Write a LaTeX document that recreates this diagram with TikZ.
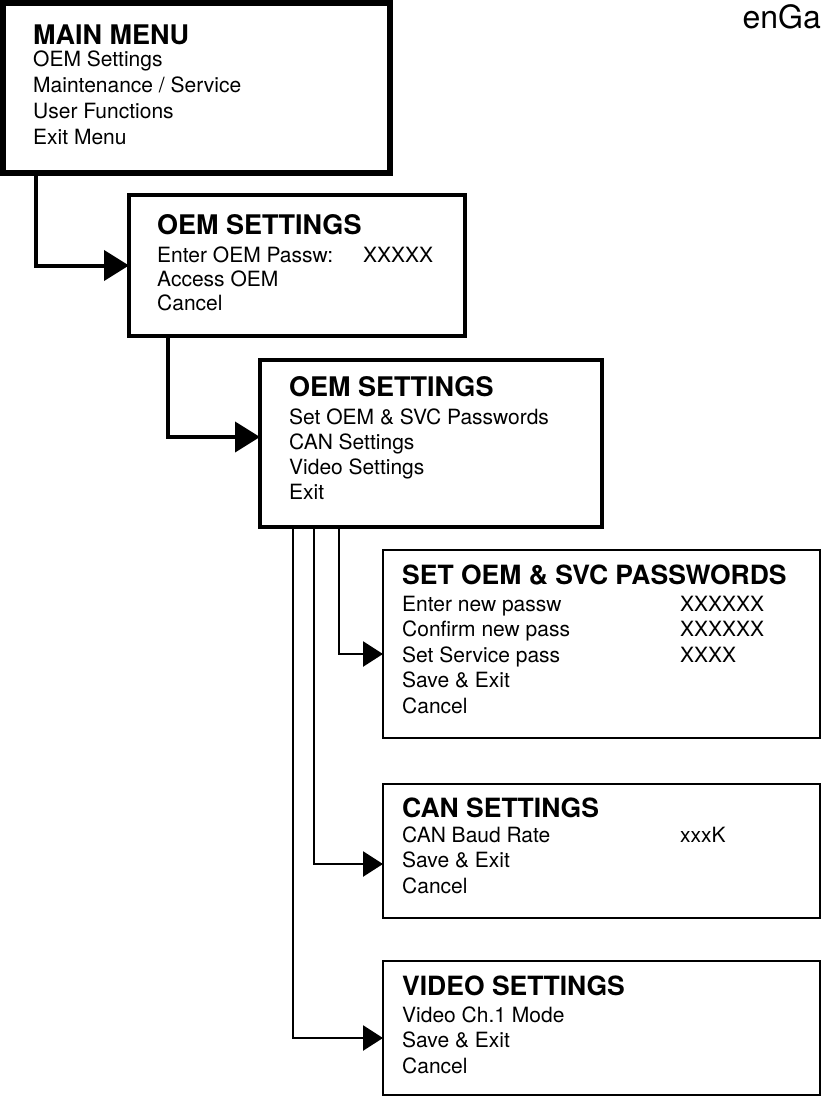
\documentclass[tikz,border=0pt]{standalone}
\usepackage{fontspec}
\setmainfont{TeX Gyre Heros}
\usetikzlibrary{arrows.meta}

\begin{document}
\begin{tikzpicture}[x=1pt,y=-1pt,
		menu/.style={draw,line width=#1,anchor=north west,outer sep=0pt,inner sep=0pt},
		menu/.default=2.5pt,
		menutitle/.style={anchor=base west,inner sep=0pt,font=\fontsize{#1}{30}\selectfont\bfseries},
		menutitle/.default=26.5,
		menuitems/.style={anchor=base west,inner sep=0pt,font=\fontsize{21}{#1}\selectfont},
		menuitems/.default=25.5,
		menulink/.style={line width=#1,-{Triangle[length=25pt,width=30pt]}},
		sublink/.style={line width=2.5pt,-{Triangle[length=20pt,width=25pt]}}]
		
		\useasboundingbox (0,0) rectangle (822,1097);
		
		%logo
		\node[anchor=base east,inner sep=0pt,font=\fontsize{32}{36}\selectfont] (logo) at (821,29) {enGa};
		
		%main menu
		\node[menu=5.5pt,minimum width=387pt,minimum height=170pt] (mainmenu) at (3,3) {};
		\node[menutitle=27] (maintitle) at (33,45) {MAIN MENU};
		\node[menuitems=26] (mainitems) at (33,67) {\begin{tabular}[t]{@{}l@{}}OEM Settings\\Maintenance / Service\\User Functions\\Exit Menu\end{tabular}};
		
		%oem login
		\node[menu=4.5pt,minimum width=336pt,minimum height=141pt] (oemlogin) at (129,195) {};
		\node[menutitle=27] (logintitle) at (157,234) {OEM SETTINGS};
		\node[menuitems=24] (loginitems) at (157,262) {\begin{tabular}[t]{@{}p{206pt}@{}l@{}}Enter OEM Passw: & XXXXX\\Access OEM\\Cancel\end{tabular}};
		
		%oem menu
		\node[menu=4.5pt,minimum width=342pt,minimum height=167pt] (oemmenu) at (260,360) {};
		\node[menutitle=27] (oemtitle) at (289,396) {OEM SETTINGS};
		\node[menuitems=25] (oemitems) at (289,424) {\begin{tabular}[t]{@{}l@{}}Set OEM \& SVC Passwords\\CAN Settings\\Video Settings\\Exit\end{tabular}};
		
		%sub menus
		\node[menu,minimum width=437pt,minimum height=188pt] (passwords) at (383,550) {};
		\node[menutitle] (pwtitle) at (402,584) {SET OEM \& SVC PASSWORDS};
		\node[menuitems] (pwitems) at (402,611) {\begin{tabular}[t]{@{}p{278pt}@{}l@{}}Enter new passw & XXXXXX\\Confirm new pass & XXXXXX\\Set Service pass & XXXX\\Save \& Exit\\Cancel\end{tabular}};
		
		\node[menu,minimum width=437pt,minimum height=134pt] (cansettings) at (383,784) {};
		\node[menutitle] (cantitle) at (402,817) {CAN SETTINGS};
		\node[menuitems] (canitems) at (402,842) {\begin{tabular}[t]{@{}p{278pt}@{}l@{}}CAN Baud Rate & xxxK\\Save \& Exit\\Cancel\end{tabular}};
		
		\node[menu,minimum width=437pt,minimum height=134pt] (videosettings) at (383,961) {};
		\node[menutitle] (videotitle) at (402,995) {VIDEO SETTINGS};
		\node[menuitems] (videoitems) at (402,1022) {\begin{tabular}[t]{@{}l@{}}Video Ch.1 Mode\\Save \& Exit\\Cancel\end{tabular}};
		
		%pfeile
		\draw[menulink=4pt] ([xshift=33pt]mainmenu.south west) |- (oemlogin.west);
		\draw[menulink=4pt] ([xshift=39pt]oemlogin.south west) |- ([yshift=6.5pt]oemmenu.west);
		
		\foreach \dx/\dy/\ziel in {79/-10/passwords, 54/-13/cansettings, 33/-10/videosettings}
		\draw[sublink] ([xshift=\dx pt]oemmenu.south west) |- ([yshift=\dy pt]\ziel.west);
		
	\end{tikzpicture}
\end{document}
